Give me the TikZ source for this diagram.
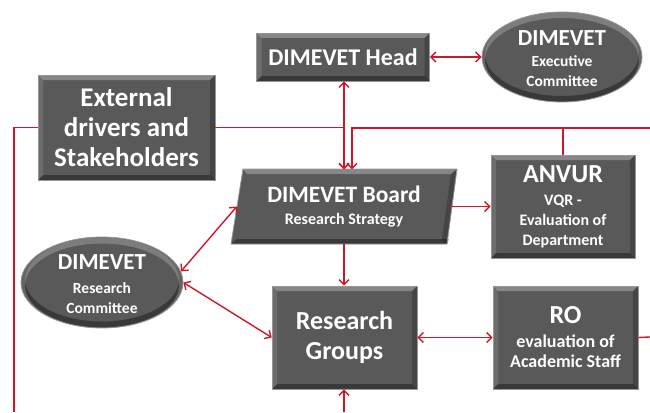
\documentclass[tikz,border=0pt]{standalone}
\usepackage{fontspec}
\setmainfont{Carlito}
\usetikzlibrary{arrows.meta,shapes.geometric}
\definecolor{boxgray}{RGB}{89,89,89}
\definecolor{boxedge}{RGB}{150,150,150}
\definecolor{lineRed}{RGB}{204,24,40}
\newcommand{\fsz}[2]{\fontsize{#1}{#2}\selectfont}
\begin{document}
\begin{tikzpicture}[x=1pt,y=-1pt,
  bevel/.style={path picture={
    \fill[white,opacity=0.28] (path picture bounding box.north west) -- (path picture bounding box.north east) -- ([shift={(-5pt,-5pt)}]path picture bounding box.north east) -- ([shift={(5pt,-5pt)}]path picture bounding box.north west) -- cycle;
    \fill[white,opacity=0.12] (path picture bounding box.north west) -- ([shift={(5pt,-5pt)}]path picture bounding box.north west) -- ([shift={(5pt,5pt)}]path picture bounding box.south west) -- (path picture bounding box.south west) -- cycle;
    \fill[black,opacity=0.35] (path picture bounding box.south west) -- (path picture bounding box.south east) -- ([shift={(-5pt,5pt)}]path picture bounding box.south east) -- ([shift={(5pt,5pt)}]path picture bounding box.south west) -- cycle;
    \fill[black,opacity=0.22] (path picture bounding box.north east) -- (path picture bounding box.south east) -- ([shift={(-5pt,5pt)}]path picture bounding box.south east) -- ([shift={(-5pt,-5pt)}]path picture bounding box.north east) -- cycle;
  }},
  ellbevel/.style={path picture={
    \fill[black,opacity=0.35,even odd rule] (path picture bounding box.center) ellipse[x radius=82pt,y radius=47pt] ([yshift=3pt]path picture bounding box.center) ellipse[x radius=77pt,y radius=42pt];
    \fill[white,opacity=0.22,even odd rule] (path picture bounding box.center) ellipse[x radius=82pt,y radius=47pt] ([yshift=-3pt]path picture bounding box.center) ellipse[x radius=77pt,y radius=42pt];
  }},
  box/.style={rectangle, fill=boxgray, draw=boxedge, line width=0.6pt, text=white, font=\bfseries, align=center, inner sep=0pt, bevel},
  ell/.style={ellipse, fill=boxgray, draw=boxedge, line width=0.8pt, inner sep=0pt, ellbevel},
  txt/.style={text=white, font=\bfseries, align=center, inner sep=0pt},
  conn/.style={draw=lineRed, line width=1.4pt, >={Straight Barb[length=5pt,width=10pt]}}
]
\useasboundingbox (0,0) rectangle (650,412);

% board parallelogram shape
\fill[boxgray] (243,169) -- (457,169) -- (447,244) -- (231,244) -- cycle;
\fill[white,opacity=0.28] (243,169) -- (457,169) -- (451,174) -- (247,174) -- cycle;
\fill[black,opacity=0.35] (231,244) -- (447,244) -- (449,239) -- (237,239) -- cycle;
\fill[black,opacity=0.22] (457,169) -- (447,244) -- (442,239) -- (451,174) -- cycle;
\draw[boxedge,line width=0.8pt] (243,169) -- (457,169) -- (447,244) -- (231,244) -- cycle;

% nodes
\node[box, minimum width=173pt, minimum height=48pt, font=\bfseries\fsz{24}{26}] (head) at (343,57) {DIMEVET Head};
\node[ell, minimum width=160pt, minimum height=90pt] (exec) at (562,57) {};
\node[txt, font=\bfseries\fsz{15.5}{20}] (exect) at (562,59) {{\fsz{23}{24}DIMEVET}\\[1pt]Executive\\Committee};
\node[box, minimum width=177pt, minimum height=105pt, font=\bfseries\fsz{27}{30}] (ext) at (126.5,127.5) {External\\drivers and\\Stakeholders};
\node[txt, minimum width=214pt, minimum height=75pt, font=\bfseries\fsz{16}{20}] (board) at (344,206.5) {{\fsz{23.5}{24}DIMEVET Board}\\[2pt]Research Strategy};
\node[box, minimum width=144pt, minimum height=103pt, font=\bfseries\fsz{16}{20}] (anvur) at (563,206.5) {{\fsz{26}{26}ANVUR}\\[3pt]VQR -\\Evaluation of\\Department};
\node[ell, minimum width=162pt, minimum height=91pt] (rc) at (102,282.5) {};
\node[txt, font=\bfseries\fsz{15.5}{20}] (rct) at (102,284) {{\fsz{23}{24}DIMEVET}\\[4pt]Research\\Committee};
\node[box, minimum width=145pt, minimum height=103pt, font=\bfseries\fsz{26}{30}] (groups) at (344.5,337.5) {Research\\Groups};
\node[box, minimum width=145pt, minimum height=103pt, font=\bfseries\fsz{18}{20}] (ro) at (565.5,337.5) {{\fsz{26}{26}RO}\\[4pt]evaluation of\\Academic Staff};

% free ends
\coordinate (rin) at (650,128);
\coordinate (lbot) at (14,412);
\coordinate (rout) at (650,337);
\coordinate (gbot) at (344,412);

% connectors
\draw[conn,<->] (head.east) -- (exec.west);
\draw[conn,<->] (board.north |- head.south) -- ([yshift=-0.5pt]board.north);
\draw[conn,->] (ext.east) -| ([yshift=-0.5pt]board.north);
\draw[conn,->] (rin) -| ([xshift=8pt,yshift=-0.5pt]board.north);
\draw[conn] (anvur.north) -- (anvur.north |- rin);
\draw[conn] (ext.west) -| (lbot);
\draw[conn,->] ([xshift=-2pt]board.east) -- (anvur.west |- board.east);
\draw[conn,->] (board.south) -- (board.south |- groups.north);
\draw[conn,<->] (rc.8) -- (board.west);
\draw[conn,<->] (rc.east) -- (groups.west);
\draw[conn,<->] (groups.east) -- (ro.west);
\draw[conn] (ro.east) -- (rout);
\draw[conn,->] (gbot) -- (gbot |- groups.south);
\end{tikzpicture}
\end{document}
